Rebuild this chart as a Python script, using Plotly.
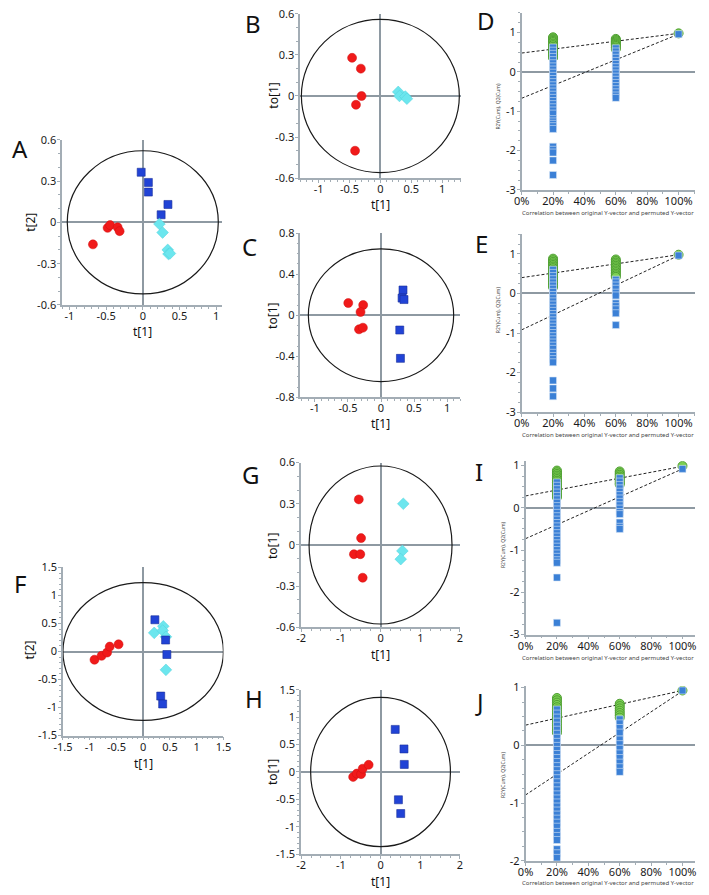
import plotly.graph_objects as go

W, H = 709, 895

# ---------------- data ----------------
# score plots (t[1], t[2] / to[1])
A_red_x = [-0.68, -0.48, -0.445, -0.343, -0.316]
A_red_y = [-0.16, -0.04, -0.02, -0.036, -0.064]
A_blue_x = [-0.022, 0.076, 0.076, 0.343, 0.25]
A_blue_y = [0.364, 0.29, 0.22, 0.13, 0.055]
A_cyan_x = [0.227, 0.27, 0.34, 0.35, 0.37]
A_cyan_y = [-0.012, -0.074, -0.2, -0.23, -0.226]

B_red_x = [-0.458, -0.316, -0.305, -0.395, -0.41]
B_red_y = [0.279, 0.2, 0.0, -0.064, -0.4]
B_cyan_x = [0.29, 0.31, 0.405, 0.43]
B_cyan_y = [0.03, 0.0, -0.004, -0.02]

C_red_x = [-0.496, -0.27, -0.31, -0.333, -0.274]
C_red_y = [0.119, 0.10, 0.032, -0.137, -0.121]
C_blue_x = [0.333, 0.319, 0.348, 0.284, 0.294]
C_blue_y = [0.246, 0.167, 0.153, -0.144, -0.42]

F_red_x = [-0.91, -0.777, -0.674, -0.625, -0.46]
F_red_y = [-0.146, -0.076, -0.018, 0.088, 0.129]
F_cyan_x = [0.376, 0.206, 0.364, 0.425, 0.425]
F_cyan_y = [0.45, 0.333, 0.374, 0.263, -0.327]
F_blue_x = [0.219, 0.419, 0.443, 0.328, 0.364]
F_blue_y = [0.567, 0.205, -0.053, -0.795, -0.936]

G_red_x = [-0.548, -0.49, -0.67, -0.51, -0.45]
G_red_y = [0.332, 0.05, -0.067, -0.067, -0.238]
G_cyan_x = [0.573, 0.55, 0.508]
G_cyan_y = [0.30, -0.043, -0.103]

H_red_x = [-0.69, -0.6, -0.49, -0.45, -0.3]
H_red_y = [-0.09, -0.03, -0.04, 0.06, 0.13]
H_blue_x = [0.369, 0.59, 0.597, 0.45, 0.508]
H_blue_y = [0.776, 0.42, 0.138, -0.507, -0.758]

# Hotelling ellipse half-axes
A_ell = [1.03, 0.52]
B_ell = [1.28, 0.56]
C_ell = [1.1, 0.646]
F_ell = [1.5, 1.23]
G_ell = [1.8, 0.575]
H_ell = [1.76, 1.36]

# permutation tests: correlation positions
perm_pos = [0.2, 0.6, 1.0]

D_green20 = [0.88, 0.85, 0.82, 0.79, 0.76, 0.72, 0.68, 0.64, 0.60, 0.56, 0.52, 0.48, 0.44, 0.40, 0.36]
D_blue20 = [0.62, 0.54, 0.46, 0.38, 0.30, 0.22, 0.14, 0.06, -0.02, -0.10, -0.18, -0.26, -0.34,
            -0.42, -0.50, -0.58, -0.66, -0.74, -0.82, -0.90, -0.98, -1.06, -1.20, -1.26, -1.32,
            -1.38, -1.45, -1.90, -1.98, -2.05, -2.25, -2.62]
D_green60 = [0.84, 0.81, 0.78, 0.75, 0.72, 0.69, 0.66, 0.62, 0.58]
D_blue60 = [0.60, 0.52, 0.44, 0.36, 0.28, 0.20, 0.12, 0.04, -0.04, -0.12, -0.20, -0.28, -0.36,
            -0.44, -0.52, -0.60, -0.66]
D_full = [0.98, 0.96]
D_r2 = [0.48, 0.98]
D_q2 = [-0.67, 0.96]

E_green20 = [0.88, 0.84, 0.80, 0.76, 0.72, 0.68, 0.64, 0.60, 0.56, 0.52, 0.48, 0.44, 0.40, 0.36,
             0.32, 0.28, 0.24, 0.20, 0.16]
E_blue20 = [0.60, 0.52, 0.44, 0.36, 0.28, 0.20, 0.12, 0.04, -0.04, -0.12, -0.20, -0.28, -0.36,
            -0.44, -0.52, -0.60, -0.68, -0.76, -0.84, -0.92, -1.00, -1.08, -1.16, -1.24, -1.32,
            -1.40, -1.50, -1.58, -1.66, -1.74, -2.20, -2.40, -2.60]
E_green60 = [0.86, 0.82, 0.78, 0.74, 0.70, 0.66, 0.62, 0.58, 0.54, 0.50, 0.46, 0.42]
E_blue60 = [0.35, 0.28, 0.20, 0.12, 0.02, -0.05, -0.25, -0.32, -0.40, -0.50, -0.80]
E_full = [0.98, 0.96]
E_r2 = [0.40, 0.98]
E_q2 = [-0.92, 0.96]

I_green20 = [0.88, 0.84, 0.80, 0.76, 0.72, 0.68, 0.64, 0.60, 0.56, 0.52, 0.48, 0.44, 0.40, 0.36,
             0.32, 0.28, 0.25]
I_blue20 = [0.60, 0.52, 0.44, 0.36, 0.28, 0.20, 0.12, 0.04, -0.04, -0.12, -0.20, -0.28, -0.36,
            -0.44, -0.52, -0.60, -0.68, -0.76, -0.84, -0.92, -1.00, -1.08, -1.16, -1.24, -1.30,
            -1.65, -2.72]
I_green60 = [0.86, 0.82, 0.78, 0.74, 0.70, 0.66, 0.62, 0.58, 0.55]
I_blue60 = [0.70, 0.62, 0.54, 0.46, 0.38, 0.30, 0.22, 0.14, 0.06, -0.02, -0.10, -0.15, -0.35,
            -0.45, -0.50]
I_full = [0.99, 0.92]
I_r2 = [0.28, 0.98]
I_q2 = [-0.73, 0.92]

J_green20 = [0.82, 0.78, 0.74, 0.70, 0.66, 0.62, 0.58, 0.54, 0.50, 0.46, 0.42, 0.38, 0.34, 0.30,
             0.26, 0.22]
J_blue20 = [0.62, 0.55, 0.48, 0.41, 0.34, 0.27, 0.20, 0.13, 0.06, -0.01, -0.08, -0.15, -0.22,
            -0.29, -0.36, -0.43, -0.50, -0.57, -0.64, -0.71, -0.78, -0.85, -0.92, -0.99, -1.06,
            -1.13, -1.20, -1.27, -1.34, -1.41, -1.50, -1.57, -1.64, -1.80, -1.87, -1.95]
J_green60 = [0.72, 0.68, 0.64, 0.60, 0.56, 0.52, 0.48]
J_blue60 = [0.45, 0.38, 0.30, 0.22, 0.10, 0.02, -0.06, -0.14, -0.22, -0.30, -0.38, -0.46]
J_full = [0.95, 0.95]
J_r2 = [0.35, 0.95]
J_q2 = [-0.86, 0.94]

# tick labels
t05_vals = [-1, -0.5, 0, 0.5, 1]
t05_text = ["-1", "-0.5", "0", "0.5", "1"]
t03_vals = [-0.6, -0.3, 0, 0.3, 0.6]
t03_text = ["-0.6", "-0.3", "0", "0.3", "0.6"]
t04_vals = [-0.8, -0.4, 0, 0.4, 0.8]
t04_text = ["-0.8", "-0.4", "0", "0.4", "0.8"]
t15_vals = [-1.5, -1, -0.5, 0, 0.5, 1, 1.5]
t15_text = ["-1.5", "-1", "-0.5", "0", "0.5", "1", "1.5"]
t2_vals = [-2, -1, 0, 1, 2]
t2_text = ["-2", "-1", "0", "1", "2"]
pct_vals = [0, 0.2, 0.4, 0.6, 0.8, 1.0]
pct_text = ["0%", "20%", "40%", "60%", "80%", "100%"]
p3_vals = [-3, -2, -1, 0, 1]
p3_text = ["-3", "-2", "-1", "0", "1"]
p2_vals = [-2, -1, 0, 1]
p2_text = ["-2", "-1", "0", "1"]

# ---------------- styles ----------------
FONT = "Noto Sans"
AX = "#a3adb5"
ZL = "#8e99a2"
RED = "#f01a1a"
BLUE = "#2143d6"
CYAN = "#6ce6ee"
GREEN = "#7ccf52"
PBLUE = "#3b80d6"

fig = go.Figure()
layout = dict(width=W, height=H, margin=dict(l=0, r=0, t=0, b=0),
              paper_bgcolor="white", plot_bgcolor="white", showlegend=False,
              annotations=[], shapes=[])


def ax_names(i):
    s = "" if i == 1 else str(i)
    return "xaxis" + s, "yaxis" + s, "x" + s, "y" + s


def add_axes(i, xpx, ypx, xr, yr, xt, xtt, yt, ytt, xminor, yminor, xzero=True):
    xa, ya, xref, yref = ax_names(i)
    common = dict(showline=True, linecolor=AX, linewidth=1.5, ticks="outside",
                  ticklen=3, tickcolor=AX, tickwidth=1, showgrid=False,
                  tickfont=dict(family=FONT, size=11, color="#1a1a1a"),
                  zerolinecolor=ZL, zerolinewidth=1.5, fixedrange=True)
    layout[xa] = dict(common, domain=[xpx[0] / W, xpx[1] / W], range=xr,
                      anchor=yref, tickmode="array", tickvals=xt, ticktext=xtt,
                      zeroline=xzero, ticklabelstandoff=-3,
                      minor=dict(ticks="outside", ticklen=2, tickcolor=AX, dtick=xminor,
                                 tick0=0, showgrid=False))
    layout[ya] = dict(common, domain=[1 - ypx[1] / H, 1 - ypx[0] / H], range=yr,
                      anchor=xref, tickmode="array", tickvals=yt, ticktext=ytt,
                      zeroline=True, ticklabelstandoff=-1,
                      minor=dict(ticks="outside", ticklen=2, tickcolor=AX, dtick=yminor,
                                 tick0=0, showgrid=False))
    return xref, yref


def ellipse(xref, yref, ab):
    layout["shapes"].append(dict(type="circle", xref=xref, yref=yref,
                                 x0=-ab[0], x1=ab[0], y0=-ab[1], y1=ab[1],
                                 line=dict(color="#1a1a1a", width=1.2), layer="above"))


def pts(xref, yref, xs, ys, kind):
    if kind == "red":
        m = dict(symbol="circle", size=9, color=RED, line=dict(color="#d01010", width=0.5))
    elif kind == "blue":
        m = dict(symbol="square", size=8, color=BLUE, line=dict(color="#1a2f9a", width=0.6))
    else:
        m = dict(symbol="diamond", size=9, color=CYAN, line=dict(color="#4fd0da", width=0.5))
    fig.add_trace(go.Scatter(x=xs, y=ys, mode="markers", marker=m, xaxis=xref, yaxis=yref,
                             hoverinfo="skip"))


def text(x, y, s, size, angle=0, color="#111111"):
    layout["annotations"].append(dict(x=x / W, y=1 - y / H, xref="paper", yref="paper",
                                      text=s, showarrow=False, textangle=angle,
                                      font=dict(family=FONT, size=size, color=color),
                                      xanchor="center", yanchor="middle"))


def perm(i, xpx, ypx, yr, yt, ytt, g20, b20, g60, b60, full, r2, q2, lab, labxy, ytitle_xy,
         xtitle_y):
    xref, yref = add_axes(i, xpx, ypx, [0, (xpx[1] - xpx[0]) / 161.0], yr, pct_vals, pct_text,
                          yt, ytt, 0.1, 0.25, xzero=False)
    # regression lines
    fig.add_trace(go.Scatter(x=[0, perm_pos[2]], y=r2, mode="lines",
                             line=dict(color="#222222", width=1, dash="3px,2px"),
                             xaxis=xref, yaxis=yref, hoverinfo="skip"))
    fig.add_trace(go.Scatter(x=[0, perm_pos[2]], y=q2, mode="lines",
                             line=dict(color="#222222", width=1, dash="3px,2px"),
                             xaxis=xref, yaxis=yref, hoverinfo="skip"))
    gx = [perm_pos[0]] * len(g20) + [perm_pos[1]] * len(g60) + [perm_pos[2]]
    gy = g20 + g60 + [full[0]]
    bx = [perm_pos[0]] * len(b20) + [perm_pos[1]] * len(b60) + [perm_pos[2]]
    by = b20 + b60 + [full[1]]
    fig.add_trace(go.Scatter(x=gx, y=gy, mode="markers",
                             marker=dict(symbol="circle", size=9, color=GREEN,
                                         line=dict(color="#4f9f33", width=1)),
                             xaxis=xref, yaxis=yref, hoverinfo="skip"))
    fig.add_trace(go.Scatter(x=bx, y=by, mode="markers",
                             marker=dict(symbol="square", size=7, color=PBLUE,
                                         line=dict(color="#d8e6f5", width=0.6)),
                             xaxis=xref, yaxis=yref, hoverinfo="skip"))
    text(labxy[0], labxy[1], lab, 24)
    text(ytitle_xy[0], ytitle_xy[1], "R2Y(Cum), Q2(Cum)", 5, -90, "#444444")
    text(614, xtitle_y, "Correlation between original Y-vector and permuted Y-vector", 6,
         0, "#444444")


# ---------------- panel A ----------------
xr_, yr_ = add_axes(1, (53.5, 217.5), (134, 302), [-1.1, 1.08], [-0.6, 0.6],
                    t05_vals, t05_text, t03_vals, t03_text, 0.1, 0.1)
ellipse(xr_, yr_, A_ell)
pts(xr_, yr_, A_red_x, A_red_y, "red")
pts(xr_, yr_, A_blue_x, A_blue_y, "blue")
pts(xr_, yr_, A_cyan_x, A_cyan_y, "cyan")
text(10, 143, "A", 24)
text(21, 218, "t[2]", 12, -90)
text(136, 329, "t[1]", 12)

# ---------------- panel B ----------------
xr_, yr_ = add_axes(2, (297.7, 462.3), (6, 173), [-1.3, 1.3], [-0.6, 0.6],
                    t05_vals, t05_text, t03_vals, t03_text, 0.1, 0.1)
ellipse(xr_, yr_, B_ell)
pts(xr_, yr_, B_red_x, B_red_y, "red")
pts(xr_, yr_, B_cyan_x, B_cyan_y, "cyan")
text(249, 16, "B", 24)
text(270, 89, "to[1]", 12, -90)
text(380, 200, "t[1]", 12)

# ---------------- panel C ----------------
xr_, yr_ = add_axes(3, (298, 462), (229, 396), [-1.22, 1.2], [-0.8, 0.8],
                    t05_vals, t05_text, t04_vals, t04_text, 0.1, 0.1)
ellipse(xr_, yr_, C_ell)
pts(xr_, yr_, C_red_x, C_red_y, "red")
pts(xr_, yr_, C_blue_x, C_blue_y, "blue")
text(246, 243, "C", 24)
text(270, 313, "to[1]", 12, -90)
text(380, 423, "t[1]", 12)

# ---------------- panel F ----------------
xr_, yr_ = add_axes(6, (54.3, 219), (569, 740), [-1.5, 1.5], [-1.5, 1.5],
                    t15_vals, t15_text, t15_vals, t15_text, 0.1, 0.1)
ellipse(xr_, yr_, F_ell)
pts(xr_, yr_, F_red_x, F_red_y, "red")
pts(xr_, yr_, F_cyan_x, F_cyan_y, "cyan")
pts(xr_, yr_, F_blue_x, F_blue_y, "blue")
text(10, 585, "F", 24)
text(20, 653, "t[2]", 12, -90)
text(137, 768, "t[1]", 12)

# ---------------- panel G ----------------
xr_, yr_ = add_axes(7, (298.7, 461.7), (462.3, 630), [-2, 2], [-0.6, 0.6],
                    t2_vals, t2_text, t03_vals, t03_text, 0.25, 0.1)
ellipse(xr_, yr_, G_ell)
pts(xr_, yr_, G_red_x, G_red_y, "red")
pts(xr_, yr_, G_cyan_x, G_cyan_y, "cyan")
text(247, 474, "G", 24)
text(270, 547, "to[1]", 12, -90)
text(380, 658, "t[1]", 12)

# ---------------- panel H ----------------
xr_, yr_ = add_axes(8, (298.7, 461.7), (693.3, 860.7), [-2, 2], [-1.5, 1.5],
                    t2_vals, t2_text, t15_vals, t15_text, 0.25, 0.1)
ellipse(xr_, yr_, H_ell)
pts(xr_, yr_, H_red_x, H_red_y, "red")
pts(xr_, yr_, H_blue_x, H_blue_y, "blue")
text(250, 702, "H", 24)
text(270, 777, "to[1]", 12, -90)
text(380, 888, "t[1]", 12)

# ---------------- permutation panels ----------------
perm(4, (525, 703), (5, 185), [-3, 1.5], p3_vals, p3_text,
     D_green20, D_blue20, D_green60, D_blue60, D_full, D_r2, D_q2, "D", (488, 13), (501, 100), 209)
perm(5, (525, 703), (230, 411), [-3, 1.5], p3_vals, p3_text,
     E_green20, E_blue20, E_green60, E_blue60, E_full, E_r2, E_q2, "E", (484, 240), (501, 307), 434)
perm(9, (529, 703), (461, 637.3), [-3, 1.1], p3_vals, p3_text,
     I_green20, I_blue20, I_green60, I_blue60, I_full, I_r2, I_q2, "I", (481, 471), (506, 546), 661)
perm(10, (529, 703), (690, 867.3), [-2, 1.02], p2_vals, p2_text,
     J_green20, J_blue20, J_green60, J_blue60, J_full, J_r2, J_q2, "J", (482, 705), (506, 780), 890)

fig.update_layout(**layout)
fig.write_html("out.html")
